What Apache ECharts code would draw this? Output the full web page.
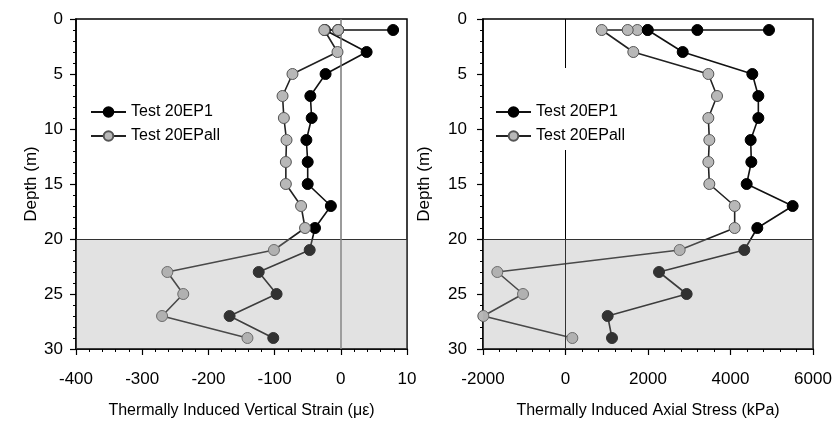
<!DOCTYPE html>
<html>
<head>
<meta charset="utf-8">
<script src="https://cdn.jsdelivr.net/npm/echarts@6/dist/echarts.min.js"></script>
<style>
html,body{margin:0;padding:0;background:#fff;}
#chart{width:837px;height:424px;}
</style>
</head>
<body>
<div id="chart"></div>
<script>
// ---- Data ----
const seriesNames = ['Test 20EP1', 'Test 20EPall'];

// Left panel: thermally induced vertical strain (microstrain) vs depth (m)
const strainDepthEP1 = [1, 1, 1, 3, 5, 7, 9, 11, 13, 15, 17, 19, 21, 23, 25, 27, 29];
const strainEP1      = [79, -4, -24, 39, -23, -46, -44, -52, -50, -50, -15, -39, -47, -124, -97, -168, -102];
const strainDepthAll = [1, 1, 3, 5, 7, 9, 11, 13, 15, 17, 19, 21, 23, 25, 27, 29];
const strainAll      = [-4, -25, -5, -73, -88, -86, -82, -83, -83, -60, -54, -101, -262, -238, -270, -141];

// Right panel: thermally induced axial stress (kPa) vs depth (m)
const stressDepthEP1 = [1, 1, 1, 3, 5, 7, 9, 11, 13, 15, 17, 19, 21, 23, 25, 27, 29];
const stressEP1      = [4933, 3196, 1993, 2841, 4529, 4675, 4675, 4489, 4505, 4392, 5507, 4650, 4335, 2267, 2937, 1022, 1127];
const stressDepthAll = [1, 1, 1, 1, 3, 5, 7, 9, 11, 13, 15, 17, 19, 21, 23, 25, 27, 29];
const stressAll      = [1993, 1741, 1508, 878, 1644, 3463, 3673, 3463, 3487, 3463, 3487, 4101, 4101, 2768, -1653, -1030, -1992, 166];

// Axis settings
const strainRange = [-400, 100], strainStep = 100;
const stressRange = [-2000, 6000], stressStep = 2000;
const depthRange = [0, 30], depthStep = 5;
const shadedDepth = [20, 30];
const xTitles = ['Thermally Induced Vertical Strain (\u03bc\u03b5)', 'Thermally Induced Axial Stress (kPa)'];
const yTitle = 'Depth (m)';
const strainTickLabels = {'-400': '-400', '-300': '-300', '-200': '-200', '-100': '-100', '0': '0', '100': '10'};

// ---- Chart ----
const FONT = 'Arial, "Liberation Sans", sans-serif';
const pair = (xs, ys) => xs.map((x, i) => [x, ys[i]]);

function xAxisOpt(gi, range, step, title, fmt) {
  return {
    type: 'value', gridIndex: gi, min: range[0], max: range[1], interval: step,
    axisLine: {show: true, onZero: false, lineStyle: {color: '#000', width: 1.5}},
    axisTick: {show: true, length: 6, lineStyle: {color: '#000', width: 1.2}},
    minorTick: {show: true, splitNumber: 5, length: 3, lineStyle: {color: '#000', width: 1}},
    splitLine: {show: false}, minorSplitLine: {show: false},
    axisLabel: {fontSize: 17, color: '#000', margin: 22, fontFamily: FONT,
      showMinLabel: true, showMaxLabel: true, hideOverlap: false, formatter: fmt},
    name: title, nameLocation: 'middle', nameGap: 54,
    nameTextStyle: {fontSize: 16, color: '#000', fontFamily: FONT}
  };
}
function yAxisOpt(gi, margin, gap) {
  return {
    type: 'value', gridIndex: gi, inverse: true, min: depthRange[0], max: depthRange[1], interval: depthStep,
    axisLine: {show: true, onZero: false, lineStyle: {color: '#000', width: 1.5}},
    axisTick: {show: true, length: 6, lineStyle: {color: '#000', width: 1.2}},
    minorTick: {show: true, splitNumber: 5, length: 3, lineStyle: {color: '#000', width: 1}},
    splitLine: {show: false}, minorSplitLine: {show: false},
    axisLabel: {fontSize: 17, color: '#000', margin: margin, fontFamily: FONT,
      showMinLabel: true, showMaxLabel: true},
    name: yTitle, nameLocation: 'middle', nameGap: gap, nameRotate: 90,
    nameTextStyle: {fontSize: 17, color: '#000', fontFamily: FONT}
  };
}

const blackSeries = (name, gi, data, z) => ({
  name, type: 'line', xAxisIndex: gi, yAxisIndex: gi, data, z,
  symbol: 'circle', symbolSize: 11, showSymbol: true, animation: false,
  lineStyle: {color: '#111', width: 1.6},
  itemStyle: {color: '#000', borderColor: '#000', borderWidth: 1}
});
const graySeries = (name, gi, data, z) => ({
  name, type: 'line', xAxisIndex: gi, yAxisIndex: gi, data, z,
  symbol: 'circle', symbolSize: 11, showSymbol: true, animation: false,
  lineStyle: {color: '#222', width: 1.6},
  itemStyle: {color: '#b8b8b8', borderColor: '#555', borderWidth: 1}
});

function decorations(zeroColor, zeroWidth) {
  return {
    markArea: {
      z: 10, silent: true,
      itemStyle: {color: 'rgba(160,160,160,0.31)'},
      data: [[{yAxis: shadedDepth[0]}, {yAxis: shadedDepth[1]}]]
    },
    markLine: {
      z: 3, silent: true, symbol: ['none', 'none'], label: {show: false}, animation: false,
      data: [
        {yAxis: shadedDepth[0], lineStyle: {color: '#000', width: 1, type: 'solid'}},
        {xAxis: 0, lineStyle: {color: zeroColor, width: zeroWidth, type: 'solid'}}
      ]
    }
  };
}

const sLeftEP1 = blackSeries(seriesNames[0], 0, pair(strainEP1, strainDepthEP1), 2);
const sLeftAll = Object.assign(graySeries(seriesNames[1], 0, pair(strainAll, strainDepthAll), 3), decorations('#7a7a7a', 1.5));
const sRightAll = Object.assign(graySeries(seriesNames[1], 1, pair(stressAll, stressDepthAll), 2), decorations('#000', 1));
const sRightEP1 = blackSeries(seriesNames[0], 1, pair(stressEP1, stressDepthEP1), 3);

const legendBase = {
  orient: 'vertical', top: 68, itemGap: 8, itemWidth: 35, itemHeight: 12,
  padding: [36, 10, 6, 10], backgroundColor: '#fff', z: 20,
  textStyle: {fontSize: 16, color: '#000', fontFamily: FONT},
  data: seriesNames, selectedMode: false
};

const option = {
  animation: false,
  backgroundColor: '#fff',
  textStyle: {fontFamily: FONT},
  grid: [
    {left: 76, top: 19, width: 331, height: 330, show: true, borderColor: '#000', borderWidth: 1.5, backgroundColor: 'transparent'},
    {left: 483, top: 19, width: 330, height: 330, show: true, borderColor: '#000', borderWidth: 1.5, backgroundColor: 'transparent'}
  ],
  legend: [
    Object.assign({}, legendBase, {left: 80}),
    Object.assign({}, legendBase, {left: 485})
  ],
  xAxis: [
    xAxisOpt(0, strainRange, strainStep, xTitles[0], v => strainTickLabels[String(v)] !== undefined ? strainTickLabels[String(v)] : String(v)),
    xAxisOpt(1, stressRange, stressStep, xTitles[1], v => String(v))
  ],
  yAxis: [yAxisOpt(0, 13, 36), yAxisOpt(1, 16, 50)],
  series: [sLeftEP1, sLeftAll, sRightAll, sRightEP1]
};

const chart = echarts.init(document.getElementById('chart'), null, {renderer: 'canvas'});
chart.setOption(option);
</script>
</body>
</html>
